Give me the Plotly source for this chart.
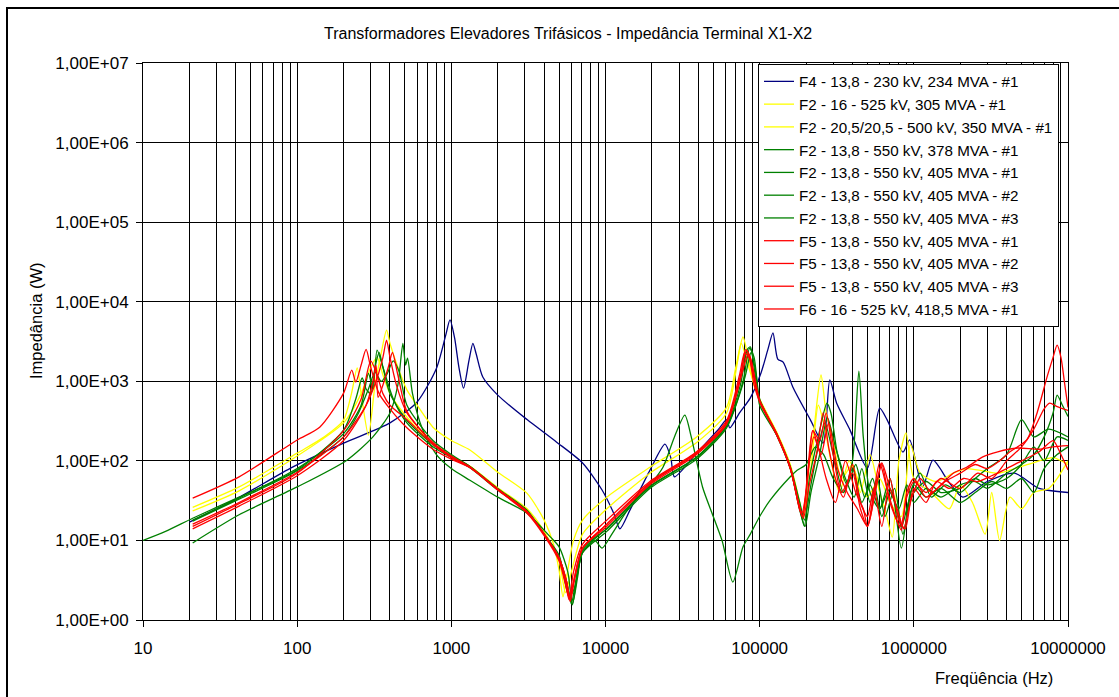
import plotly.graph_objects as go

# ---------------- data ----------------
names = [
    "F4 - 13,8 - 230 kV, 234 MVA - #1",
    "F2 - 16 - 525 kV, 305 MVA - #1",
    "F2 - 20,5/20,5 - 500 kV, 350 MVA - #1",
    "F2 - 13,8 - 550 kV, 378 MVA - #1",
    "F2 - 13,8 - 550 kV, 405 MVA - #1",
    "F2 - 13,8 - 550 kV, 405 MVA - #2",
    "F2 - 13,8 - 550 kV, 405 MVA - #3",
    "F5 - 13,8 - 550 kV, 405 MVA - #1",
    "F5 - 13,8 - 550 kV, 405 MVA - #2",
    "F5 - 13,8 - 550 kV, 405 MVA - #3",
    "F6 - 16 - 525 kV, 418,5 MVA - #1",
]

f_f4 = [20, 40, 94, 200, 400, 600, 800, 920, 980, 1050, 1120, 1200, 1300, 1380, 1450, 1600, 2000, 3100, 4800,
        7100, 9500, 11300, 12400, 14400, 19400, 24300, 26500, 28000, 39000, 55000, 61000, 64000, 74000, 87000,
        102000, 113000, 122000, 131000, 142000, 164000, 213000, 258000, 285000, 316000, 385000, 500000, 600000,
        670000, 850000, 940000, 1140000, 1330000, 1700000, 2080000, 3000000, 4500000, 6500000, 10000000]
z_f4 = [17, 33, 84, 167, 300, 550, 1450, 3800, 5900, 3500, 1500, 820, 1800, 3000, 2200, 1130, 670, 330, 173,
        94, 43, 22, 14, 24, 76, 162, 110, 63, 125, 260, 330, 260, 400, 620,
        1270, 2500, 4050, 1900, 1740, 850, 330, 167, 1040, 530, 245, 81, 460,
        330, 129, 183, 47, 102, 53, 35, 55, 70, 45, 40]

f_y305 = [21, 42, 100, 150, 200, 225, 245, 260, 290, 320, 350, 380, 400, 450, 515, 600, 760, 1000, 1320, 2000,
          3100, 4000, 4600, 5000, 5300, 5600, 6200, 7100, 10200, 19400, 39000, 61000, 70000, 78000, 84000, 92000,
          100000, 129000, 158000, 182000, 192000, 205000, 225000, 250000, 270000, 300000, 340000, 400000, 450000,
          520000, 600000, 650000, 725000, 800000, 890000, 1000000, 1300000, 1700000, 2000000, 2400000, 2900000,
          3200000, 3600000, 4200000, 5000000, 6000000, 7500000, 8500000, 10000000]
z_y305 = [26, 47, 125, 200, 325, 700, 1470, 700, 210, 900, 2200, 4400, 3000, 1500, 780, 500, 265, 180, 137, 72,
          39, 18, 9, 4.2, 1.95, 3.5, 10, 18, 35, 83, 200, 470, 1500, 3600, 2000, 900,
          600, 230, 90, 30, 19, 60, 250, 1200, 400, 180, 60, 90, 40,
          120, 40, 25, 11, 100, 225, 60, 40, 25, 50, 30, 12,
          40, 10, 35, 25, 40, 45, 60, 100]

f_y350 = [21, 42, 100, 200, 260, 300, 330, 360, 400, 500, 700, 1000, 1320, 2000, 3100, 4000, 5000, 5500, 6000,
          7100, 10200, 19400, 39000, 61000, 72000, 76000, 84000, 100000, 129000, 158000, 182000, 192000, 215000,
          240000, 260000, 290000, 330000, 380000, 450000, 500000, 600000, 700000, 830000, 950000, 1100000,
          1400000, 1800000, 2200000, 2800000, 3500000, 4500000, 6000000, 8000000, 10000000]
z_y350 = [23.5, 42, 115, 300, 700, 1500, 2000, 1200, 700, 380, 190, 115, 86, 46, 25, 13, 5.5, 2.2, 4,
          12, 25, 70, 170, 400, 1800, 3000, 1600, 580, 220, 85, 28, 20, 80,
          500, 300, 100, 40, 100, 50, 35, 60, 30, 20, 160, 70,
          55, 70, 80, 75, 70, 80, 95, 110, 90]

f_g378 = [10, 14, 21, 42, 100, 200, 240, 264, 280, 300, 320, 340, 360, 400, 515, 760, 1000, 1320, 2000, 3100,
          4000, 5000, 5600, 6000, 6400, 7100, 10200, 19400, 39000, 61000, 75000, 83000, 87000, 92000, 100000,
          129000, 158000, 182000, 195000, 210000, 240000, 273000, 290000, 320000, 370000, 420000, 480000, 540000,
          620000, 700000, 800000, 900000, 1000000, 1200000, 1500000, 2000000, 2500000, 3000000, 4000000, 5000000,
          6000000, 7000000, 8000000, 8500000, 9200000, 10000000]
z_g378 = [10, 13, 19, 35, 77, 243, 600, 1100, 800, 700, 1500, 2300, 1500, 700, 320, 160, 115, 85, 45, 24,
          12, 6, 3, 1.6, 3, 8, 14, 48, 112, 280, 900, 2500, 2700, 1500, 560,
          210, 80, 25, 15, 60, 200, 530, 400, 120, 50, 90, 35, 60,
          20, 40, 25, 50, 30, 45, 35, 50, 55, 45, 70, 90,
          120, 200, 400, 670, 500, 360]

f_g405a = [21, 42, 100, 210, 310, 400, 450, 485, 505, 520, 560, 650, 800, 1000, 1320, 2000, 3100, 4400, 5000,
           5700, 6100, 6600, 7100, 8500, 9500, 11000, 15000, 19400, 23600, 28000, 32700, 36000, 42600, 50000,
           57000, 67000, 78000, 87000, 100000, 117000, 158000, 175000, 200000, 230000, 260000, 300000, 350000,
           400000, 460000, 520000, 600000, 700000, 830000, 950000, 1200000, 1500000, 2000000, 2500000, 3000000,
           4000000, 5000000, 6000000, 7000000, 8500000, 10000000]
z_g405a = [9.3, 21, 47, 102, 200, 400, 900, 3000, 1600, 1950, 700, 250, 120, 80, 57, 35, 22, 11, 8.3,
           4, 1.55, 4, 7, 10, 8, 12, 30, 50, 83, 200, 376, 200, 47, 20,
           10, 3, 8.3, 12, 20, 32, 63, 76, 90, 150, 120, 60, 40,
           80, 30, 50, 25, 45, 15, 35, 55, 40, 45, 60, 50,
           60, 90, 150, 100, 200, 180]

f_g405b = [21, 42, 100, 200, 260, 290, 310, 330, 360, 420, 515, 760, 1000, 1320, 2000, 3100, 4000, 5000, 5700,
           6100, 6600, 7100, 10200, 19400, 39000, 61000, 78000, 86000, 92000, 100000, 129000, 158000, 182000,
           195000, 215000, 240000, 265000, 300000, 350000, 400000, 440000, 470000, 520000, 600000, 700000,
           830000, 950000, 1100000, 1300000, 1600000, 2000000, 2500000, 3000000, 4000000, 5000000, 6000000,
           7500000, 10000000]
z_g405b = [18, 34, 80, 220, 500, 1260, 800, 2460, 1500, 600, 300, 150, 110, 82, 43, 23, 12, 6, 2.5,
           1.6, 3.5, 7.5, 14, 47, 110, 270, 1000, 2600, 2000, 600, 220, 85, 30,
           18, 50, 150, 300, 120, 40, 100, 1340, 200, 40, 25, 60,
           8, 40, 70, 35, 50, 40, 60, 80, 120, 330, 200,
           250, 200]

f_g405c = [21, 42, 100, 200, 250, 290, 320, 350, 380, 420, 460, 515, 760, 1000, 1320, 2000, 3100, 4000, 5000,
           5800, 6300, 7100, 10200, 19400, 39000, 61000, 80000, 88000, 95000, 100000, 129000, 158000, 182000,
           197000, 215000, 245000, 275000, 310000, 360000, 410000, 460000, 520000, 580000, 650000, 750000,
           850000, 1000000, 1200000, 1500000, 2000000, 2500000, 3200000, 4000000, 5000000, 6000000, 7000000,
           8500000, 10000000]
z_g405c = [17.5, 33, 75, 200, 400, 800, 1300, 1000, 1200, 1800, 1300, 500, 180, 120, 85, 44, 23, 12, 6.5,
           2.0, 2.5, 7, 13, 45, 105, 260, 1100, 2300, 1200, 500, 210, 80, 24,
           15, 40, 120, 350, 150, 60, 35, 80, 30, 60, 20, 45,
           12, 50, 35, 45, 30, 40, 55, 45, 60, 40, 80,
           120, 150]

f_r1 = [21, 42, 100, 140, 200, 226, 240, 260, 280, 300, 340, 400, 515, 760, 1000, 1320, 2000, 3100, 4000, 5000,
        5500, 5800, 6200, 7100, 10200, 19400, 39000, 61000, 74000, 80000, 86000, 92000, 100000, 129000, 158000,
        182000, 190000, 205000, 221000, 240000, 270000, 310000, 360000, 420000, 470000, 500000, 560000, 600000,
        680000, 760000, 830000, 900000, 1000000, 1200000, 1500000, 1800000, 2200000, 2800000, 3500000, 4700000,
        6500000, 8000000, 10000000]
z_r1 = [34, 63, 183, 265, 710, 1380, 980, 1600, 2520, 1500, 700, 450, 260, 140, 105, 82, 44, 23, 12, 6,
        3, 1.8, 4, 9, 18, 55, 130, 320, 1200, 2300, 1900, 900, 550, 210, 80,
        25, 20, 60, 240, 150, 60, 30, 100, 40, 25, 15, 50, 94,
        40, 20, 13.5, 40, 60, 35, 50, 70, 83, 112, 130, 145,
        140, 150, 155]

f_r2 = [21, 42, 100, 200, 280, 330, 360, 380, 400, 440, 515, 760, 1000, 1320, 2000, 3100, 4000, 5000, 5600,
        5900, 6300, 7100, 10200, 19400, 39000, 61000, 76000, 82000, 88000, 95000, 100000, 129000, 158000, 182000,
        190000, 205000, 225000, 250000, 280000, 320000, 370000, 430000, 500000, 560000, 620000, 700000, 820000,
        900000, 1000000, 1200000, 1500000, 2000000, 2600000, 3200000, 4000000, 5000000, 6000000, 7000000,
        7600000, 8500000, 10000000]
z_r2 = [16, 30, 72, 200, 500, 1100, 2000, 3300, 2000, 900, 400, 170, 115, 84, 44, 23, 12, 6, 3,
        1.8, 3.5, 8, 16, 52, 125, 300, 1300, 2450, 1800, 800, 560, 215, 82, 25,
        20, 70, 200, 120, 300, 80, 40, 25, 15, 40, 90, 30, 15,
        35, 55, 40, 60, 45, 70, 60, 100, 150, 250, 450,
        530, 480, 430]

f_r3 = [21, 42, 100, 200, 280, 310, 325, 335, 360, 390, 415, 450, 515, 760, 1000, 1320, 2000, 3100, 4000, 5000,
        5500, 5800, 6200, 7100, 10200, 19400, 39000, 61000, 78000, 84000, 90000, 100000, 129000, 158000, 182000,
        192000, 210000, 235000, 258000, 280000, 310000, 350000, 400000, 450000, 500000, 550000, 620000, 700000,
        800000, 880000, 1000000, 1200000, 1400000, 1700000, 2100000, 2600000, 3200000, 4000000, 5000000,
        6500000, 8000000, 9000000, 10000000]
z_r3 = [14, 27, 65, 180, 500, 1000, 1600, 630, 900, 1500, 2300, 1200, 420, 165, 112, 83, 43, 22, 11.5, 5.5,
        2.8, 1.9, 3, 8, 15, 50, 120, 290, 1400, 2200, 1300, 580, 220, 82, 24,
        19, 50, 130, 400, 150, 60, 35, 90, 30, 20, 45, 15, 60,
        18, 14, 45, 30, 55, 45, 60, 55, 65, 80, 100,
        130, 180, 120, 77]

f_r4 = [21, 42, 100, 200, 260, 300, 330, 360, 400, 515, 760, 1000, 1320, 2000, 3100, 4000, 5000, 5600, 5900,
        6300, 7100, 10200, 19400, 39000, 61000, 75000, 81000, 87000, 95000, 100000, 129000, 158000, 182000,
        188000, 200000, 221000, 245000, 270000, 300000, 340000, 400000, 450000, 500000, 560000, 620000, 700000,
        780000, 860000, 950000, 1100000, 1300000, 1600000, 2000000, 2500000, 3000000, 3600000, 4200000, 5400000,
        6300000, 7300000, 8000000, 8500000, 9000000, 9500000, 10000000]
z_r4 = [15, 29, 70, 240, 600, 1800, 1200, 700, 500, 330, 160, 110, 83, 44, 23, 12, 6, 3, 1.7,
        3.2, 8, 16, 53, 127, 300, 1100, 2500, 2000, 900, 570, 218, 82, 26,
        22, 40, 240, 180, 400, 120, 40, 70, 25, 15, 40, 94, 45,
        25, 14, 30, 60, 40, 55, 70, 90, 80, 100, 130, 183,
        400, 1120, 2000, 2850, 2000, 950, 470]

series_f = [f_f4, f_y305, f_y350, f_g378, f_g405a, f_g405b, f_g405c, f_r1, f_r2, f_r3, f_r4]
series_z = [z_f4, z_y305, z_y350, z_g378, z_g405a, z_g405b, z_g405c, z_r1, z_r2, z_r3, z_r4]
colors = ["#000080", "#FFFF00", "#FFFF00", "#008000", "#008000", "#008000", "#008000",
          "#FF0000", "#FF0000", "#FF0000", "#FF0000"]

y_tickvals = [1, 10, 100, 1000, 10000, 100000, 1000000, 10000000]
y_ticktext = ["1,00E+00", "1,00E+01", "1,00E+02", "1,00E+03", "1,00E+04", "1,00E+05", "1,00E+06", "1,00E+07"]
x_tickvals = [10, 100, 1000, 10000, 100000, 1000000, 10000000]
x_ticktext = ["10", "100", "1000", "10000", "100000", "1000000", "10000000"]

title_text = "Transformadores Elevadores Trifásicos - Impedância Terminal X1-X2"
x_title = "Freqüência (Hz)"
y_title = "Impedância (W)"

# ---------------- figure ----------------
FONT = "Liberation Sans, Arial, sans-serif"
fig = go.Figure()
for i, (nm, fx, zy, c) in enumerate(zip(names, series_f, series_z, colors)):
    fig.add_trace(go.Scatter(
        x=fx, y=zy, name=nm, mode="lines",
        line=dict(color=c, width=1.3, shape="spline", smoothing=0.7),
        legendgroup="g%d" % i,
    ))

minor_x = [m * 10 ** k for k in range(1, 7) for m in range(2, 10)]

L, R, T, B = 143, 51, 63, 77
W, H = 1119, 697
pw, ph = W - L - R, H - T - B


def px(x):
    return (x - L) / pw


def py(y):
    return (H - B - y) / ph


fig.update_layout(
    width=W, height=H,
    margin=dict(l=L, r=R, t=T, b=B),
    paper_bgcolor="white", plot_bgcolor="white",
    font=dict(family=FONT, color="black", size=16),
    showlegend=True,
    legend=dict(
        x=px(758), y=py(64), xanchor="left", yanchor="top",
        bgcolor="white", bordercolor="black", borderwidth=1,
        font=dict(family=FONT, size=15.2, color="black"),
        traceorder="grouped", tracegroupgap=0, itemwidth=30,
    ),
    xaxis=dict(
        type="log", range=[1, 7], showline=True, linecolor="black", linewidth=1, mirror=True,
        showgrid=True, gridcolor="black", gridwidth=1,
        tickvals=x_tickvals, ticktext=x_ticktext, ticks="outside", ticklen=6, tickcolor="black",
        tickfont=dict(family=FONT, size=17), ticklabelstandoff=7,
        minor=dict(tickvals=minor_x, showgrid=True, gridcolor="black", gridwidth=1, ticks=""),
        zeroline=False,
    ),
    yaxis=dict(
        type="log", range=[0, 7], showline=True, linecolor="black", linewidth=1, mirror=True,
        showgrid=True, gridcolor="black", gridwidth=1,
        tickvals=y_tickvals, ticktext=y_ticktext, ticks="outside", ticklen=6, tickcolor="black",
        tickfont=dict(family=FONT, size=17), ticklabelstandoff=4,
        zeroline=False,
    ),
    annotations=[
        dict(text=title_text, x=px(568), y=py(33), xref="paper", yref="paper", showarrow=False,
             xanchor="center", yanchor="middle", font=dict(family=FONT, size=16)),
        dict(text=x_title, x=px(994), y=py(678), xref="paper", yref="paper", showarrow=False,
             xanchor="center", yanchor="middle", font=dict(family=FONT, size=16.5)),
        dict(text=y_title, x=px(36), y=py(321), xref="paper", yref="paper", showarrow=False,
             xanchor="center", yanchor="middle", textangle=-90, font=dict(family=FONT, size=16.5)),
    ],
    shapes=[
        dict(type="rect", xref="paper", yref="paper", x0=px(7), y0=py(710), x1=px(1130), y1=py(8),
             line=dict(color="black", width=2), fillcolor="rgba(0,0,0,0)", layer="below"),
    ],
)

fig.write_html("out.html", config={"displayModeBar": False},
               post_script="document.body.style.margin='0';document.body.style.padding='0';")
